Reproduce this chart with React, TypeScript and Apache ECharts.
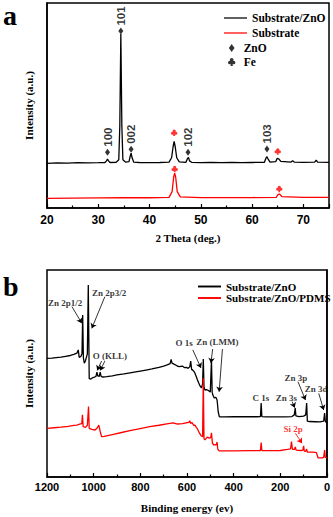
import React, { useEffect, useRef } from "react";
import * as echarts from "echarts";

// ---------- Panel a : XRD ----------
const xrdSubstrateZnO: [number, number][] = [
  [20, 21.8], [22, 22.0], [24, 21.9], [26, 22.1], [28, 22.0], [30, 22.1], [31.3, 22.2], [31.6, 23.0],
  [31.8, 23.9], [32.0, 23.0], [32.3, 22.2], [33.5, 22.3], [34.0, 23.5], [34.2, 40], [34.4, 84.9],
  [34.6, 40], [34.8, 23.5], [35.3, 22.4], [36.0, 22.6], [36.2, 25], [36.4, 26.7], [36.6, 24.5],
  [36.9, 22.4], [38, 22.2], [40, 22.1], [42, 22.2], [43.8, 22.4], [44.3, 24.5], [44.6, 30],
  [44.8, 32.5], [45.0, 30], [45.3, 24.5], [45.8, 22.5], [47.1, 22.3], [47.4, 24.2], [47.6, 24.7],
  [47.8, 23.0], [48.2, 22.3], [50, 22.1], [52, 22.2], [54, 22.1], [56, 22.2], [58, 22.1], [60, 22.2],
  [62.4, 22.3], [62.7, 24.3], [62.9, 25.0], [63.1, 24.0], [63.5, 22.4], [64.6, 22.6], [64.9, 24.2],
  [65.2, 24.0], [65.6, 22.7], [67.6, 22.4], [67.9, 23.0], [68.2, 22.4], [70, 22.3], [72.2, 22.4],
  [72.5, 23.3], [72.8, 22.4], [75, 22.3],
];
const xrdSubstrate: [number, number][] = [
  [20, 4.7], [25, 4.8], [30, 4.9], [35, 5.0], [40, 5.0], [43.8, 5.2], [44.4, 8], [44.7, 15],
  [44.9, 17.0], [45.1, 15], [45.4, 8], [46.0, 5.4], [50, 5.1], [55, 5.1], [60, 5.1], [64.7, 5.2],
  [65.1, 6.6], [65.4, 6.8], [65.8, 5.5], [70, 5.2], [75, 5.2],
];
const xrdZnOPeaks = [
  { hkl: "100", theta: 31.8, y: 27.2 },
  { hkl: "101", theta: 34.4, y: 86.3 },
  { hkl: "002", theta: 36.4, y: 28.6 },
  { hkl: "102", theta: 47.5, y: 27.2 },
  { hkl: "103", theta: 62.9, y: 28.8 },
];
const xrdFeMarks: [number, number][] = [[44.8, 36.7], [65.0, 27.6], [44.9, 19.0], [65.3, 9.3]];

// ---------- Panel b : XPS ----------
const xpsSubstrateZnO: [number, number][] = [
  [1200, 57.3], [1180, 57.4], [1160, 57.7], [1140, 57.9], [1120, 58.3], [1100, 58.7], [1085, 59.2],
  [1072, 59.8], [1066, 61.4], [1062, 57.8], [1055, 58.2], [1050, 59.5], [1047, 78.3], [1044, 57.5],
  [1040, 55.0], [1035, 56.2], [1027, 59.5], [1023, 92.8], [1019, 47.5], [1012, 47.3], [1004, 48.0],
  [996, 48.3], [990, 48.6], [986, 50.6], [982, 48.8], [976, 48.6], [972, 50.6], [968, 48.6],
  [960, 48.3], [944, 48.5], [920, 48.9], [900, 49.3], [870, 49.8], [850, 50.2], [820, 50.8],
  [800, 51.2], [770, 51.8], [750, 52.2], [720, 53.0], [700, 53.6], [685, 54.2], [672, 54.8],
  [668, 56.8], [664, 55.0], [650, 54.2], [640, 53.5], [632, 53.3], [620, 53.6], [610, 52.8],
  [603, 53.0], [595, 52.5], [588, 53.2], [584, 56.0], [580, 52.0], [574, 51.5], [568, 50.7],
  [562, 49.0], [555, 46.9], [550, 45.5], [544, 44.0], [538, 43.0], [533, 45.0], [530, 57.0],
  [527, 43.5], [523, 42.0], [516, 42.2], [508, 41.8], [500, 41.0], [495, 56.5], [492, 41.0],
  [489, 39.6], [483, 38.2], [476, 38.5], [471, 37.2], [469, 35.0], [466, 31.4], [461, 29.0],
  [440, 29.0], [400, 29.2], [350, 29.1], [300, 29.1], [285, 29.2], [282, 35.7], [279, 29.2],
  [260, 29.0], [220, 29.0], [180, 29.0], [150, 29.2], [140, 30.0], [136, 33.3], [133, 29.5],
  [120, 29.2], [100, 29.4], [91, 30.0], [87, 35.7], [84, 27.0], [75, 26.8], [50, 26.7], [30, 26.6],
  [14, 27.0], [10, 30.9], [7, 27.0], [4, 26.5], [0, 26.1],
];
const xpsSubstrateZnOPDMS: [number, number][] = [
  [1200, 23.5], [1170, 23.8], [1140, 24.1], [1110, 24.5], [1085, 24.9], [1072, 25.1], [1060, 25.5],
  [1051, 25.8], [1048, 30.0], [1045, 24.3], [1035, 24.0], [1027, 25.0], [1022, 34.0], [1019, 23.5],
  [1008, 23.0], [994, 22.7], [984, 23.8], [978, 25.1], [972, 22.0], [966, 19.5], [955, 19.6],
  [920, 20.5], [880, 21.5], [840, 22.5], [800, 23.4], [760, 24.3], [720, 25.0], [680, 25.8],
  [660, 26.2], [640, 25.6], [620, 25.8], [603, 26.2], [592, 26.4], [588, 27.2], [584, 25.8],
  [578, 26.3], [572, 25.0], [566, 25.1], [560, 24.0], [555, 23.2], [547, 21.3], [538, 19.8],
  [533, 19.5], [530, 47.8], [527, 18.5], [523, 17.9], [513, 19.3], [504, 18.8], [498, 19.0],
  [495, 21.3], [491, 16.5], [486, 15.5], [478, 15.6], [474, 15.5], [471, 16.9], [468, 13.5],
  [462, 12.6], [400, 12.6], [330, 12.7], [290, 12.7], [285, 12.8], [282, 16.6], [279, 12.8],
  [240, 12.7], [200, 12.8], [170, 13.3], [156, 13.6], [152, 17.1], [148, 13.4], [139, 13.3],
  [136, 14.5], [132, 13.0], [110, 12.8], [103, 13.0], [100, 15.0], [97, 12.5], [91, 12.4],
  [87, 13.5], [84, 12.0], [60, 12.0], [45, 11.8], [38, 9.2], [20, 9.2], [14, 9.5], [10, 13.0],
  [7, 9.5], [0, 9.2],
];
const xpsLabels = [
  { text: "Zn 2p1/2", e: 1122, y: 84.1, red: false },
  { text: "Zn 2p3/2", e: 934, y: 89.1, red: false },
  { text: "O (KLL)", e: 930, y: 58.5, red: false },
  { text: "O 1s", e: 612, y: 64.7, red: false },
  { text: "Zn (LMM)", e: 470, y: 65.2, red: false },
  { text: "C 1s", e: 283, y: 38.2, red: false },
  { text: "Zn 3s", e: 174, y: 38.0, red: false },
  { text: "Zn 3p", e: 133, y: 47.7, red: false },
  { text: "Zn 3d", e: 46, y: 42.4, red: false },
  { text: "Si 2p", e: 145, y: 23.0, red: true },
];
// [fromE, fromY, toE, toY, red]
const xpsArrows: [number, number, number, number, boolean][] = [
  [1093, 82.3, 1051, 74.3, false],
  [952, 87.1, 1008, 71.8, false],
  [966, 56.0, 985, 51.5, false],
  [952, 56.0, 972, 51.5, false],
  [575, 61.4, 540, 52.7, false],
  [490, 61.8, 497, 55.1, false],
  [448, 61.8, 462, 41.2, false],
  [149, 36.4, 138, 33.5, false],
  [124, 46.0, 92, 37.2, false],
  [35, 40.4, 14, 32.4, false],
  [135, 21.1, 107, 16.3, true],
];

const RED = "#ff0000";
const SERIF = "'Liberation Serif', 'Times New Roman', serif";
const SANS = "'Liberation Sans', Arial, sans-serif";
const clubPath =
  "path://M5.5,5 A4.5,4.5 0 0,1 14.5,5 A4.5,4.5 0 0,1 5.5,5 Z M1,11.5 A4.5,4.5 0 0,1 10,11.5 A4.5,4.5 0 0,1 1,11.5 Z M10,11.5 A4.5,4.5 0 0,1 19,11.5 A4.5,4.5 0 0,1 10,11.5 Z M10,8 L13,20 L7,20 Z";
const diamondPath = "path://M5,0L10,7L5,14L0,7Z";

export default function App() {
  const ref = useRef<HTMLDivElement>(null);
  useEffect(() => {
    if (!ref.current) return;
    const chart = echarts.init(ref.current, undefined, { renderer: "svg" });

    const xAxisCommon = {
      type: "value" as const,
      axisLine: { lineStyle: { color: "#000", width: 1.5 } },
      axisTick: { inside: true, length: 4, lineStyle: { color: "#000", width: 1.2 } },
      minorTick: { show: true, splitNumber: 2, length: 2.5, lineStyle: { color: "#000", width: 1.2 } },
      splitLine: { show: false },
      nameLocation: "middle" as const,
      nameTextStyle: { fontFamily: SERIF, fontWeight: "bold" as const, fontSize: 11, color: "#000" },
    };
    const yAxisCommon = {
      type: "value" as const,
      min: 0,
      max: 100,
      axisLine: { show: true, lineStyle: { color: "#000", width: 1.5 } },
      axisTick: { show: false },
      axisLabel: { show: false },
      splitLine: { show: false },
      name: "Intensity (a.u.)",
      nameLocation: "middle" as const,
      nameRotate: 90,
      nameGap: 13,
      nameTextStyle: { fontFamily: SERIF, fontWeight: "bold" as const, fontSize: 11, color: "#000" },
    };

    chart.setOption({
      animation: false,
      backgroundColor: "#fff",
      grid: [
        { left: 47, top: 3, width: 282, height: 205, show: true, borderColor: "#000", borderWidth: 1.5 },
        { left: 47, top: 270, width: 282, height: 207, show: true, borderColor: "#000", borderWidth: 1.5 },
      ],
      xAxis: [
        {
          ...xAxisCommon,
          gridIndex: 0,
          min: 20,
          max: 75,
          interval: 10,
          name: "2 Theta (deg.)",
          nameGap: 24,
          axisLabel: {
            margin: 6,
            showMaxLabel: false,
            formatter: (v: number) => String(v),
            fontFamily: SANS,
            fontWeight: "bold",
            fontSize: 12,
            color: "#000",
          },
        },
        {
          ...xAxisCommon,
          gridIndex: 1,
          min: 0,
          max: 1200,
          interval: 200,
          inverse: true,
          name: "Binding energy (ev)",
          nameGap: 25,
          axisLabel: {
            margin: 4,
            formatter: (v: number) => String(v),
            fontFamily: SANS,
            fontWeight: "bold",
            fontSize: 11,
            color: "#000",
          },
        },
      ],
      yAxis: [
        { ...yAxisCommon, gridIndex: 0 },
        { ...yAxisCommon, gridIndex: 1 },
      ],
      legend: [
        {
          left: 219,
          top: 7,
          orient: "vertical",
          itemWidth: 23,
          itemHeight: 12,
          itemGap: 3,
          icon: "path://M0,0H24V1.3H0Z",
          data: ["Substrate/ZnO", "Substrate"],
          textStyle: { fontFamily: SERIF, fontWeight: "bold", fontSize: 11.5, color: "#000" },
          selectedMode: false,
        },
        {
          left: 223,
          top: 37,
          orient: "vertical",
          itemWidth: 14,
          itemHeight: 8,
          itemGap: 2,
          data: [
            { name: "ZnO", icon: diamondPath, itemStyle: { color: "#000" } },
            { name: "Fe", icon: clubPath, itemStyle: { color: "#000" } },
          ],
          textStyle: { fontFamily: SERIF, fontWeight: "bold", fontSize: 11.5, color: "#000" },
          selectedMode: false,
        },
        {
          left: 193,
          top: 276,
          orient: "vertical",
          itemWidth: 23,
          itemHeight: 11,
          itemGap: 0.5,
          icon: "path://M0,0H24V2H0Z",
          data: ["Substrate/ZnO", "Substrate/ZnO/PDMS"],
          textStyle: { fontFamily: SERIF, fontWeight: "bold", fontSize: 11, color: "#000" },
          selectedMode: false,
        },
      ],
      graphic: [
        {
          type: "text",
          left: 3,
          top: 1,
          style: { text: "a", font: `bold 28px ${SERIF}`, fill: "#000" },
        },
        {
          type: "text",
          left: 3,
          top: 272,
          style: { text: "b", font: `bold 28px ${SERIF}`, fill: "#000" },
        },
      ],
      series: [
        {
          type: "line",
          name: "Substrate/ZnO",
          xAxisIndex: 0,
          yAxisIndex: 0,
          data: xrdSubstrateZnO,
          showSymbol: false,
          color: "#000",
          lineStyle: { color: "#000", width: 1.3 },
        },
        {
          type: "line",
          name: "Substrate",
          xAxisIndex: 0,
          yAxisIndex: 0,
          data: xrdSubstrate,
          showSymbol: false,
          color: RED,
          lineStyle: { color: RED, width: 1.3 },
        },
        {
          type: "scatter",
          name: "ZnO",
          xAxisIndex: 0,
          yAxisIndex: 0,
          symbol: "diamond",
          symbolSize: [5, 7],
          itemStyle: { color: "#000" },
          data: xrdZnOPeaks.map((p) => ({ value: [p.theta, p.y], name: p.hkl })),
          label: {
            show: true,
            formatter: "{b}",
            position: "top",
            distance: 2,
            rotate: 90,
            align: "left",
            verticalAlign: "middle",
            fontFamily: SANS,
            fontWeight: "bold",
            fontSize: 11.5,
            color: "#000",
          },
        },
        {
          type: "scatter",
          name: "Fe",
          xAxisIndex: 0,
          yAxisIndex: 0,
          symbol: clubPath,
          symbolSize: 6.5,
          itemStyle: { color: RED },
          data: xrdFeMarks,
        },
        {
          type: "line",
          name: "Substrate/ZnO",
          xAxisIndex: 1,
          yAxisIndex: 1,
          data: xpsSubstrateZnO,
          showSymbol: false,
          color: "#000",
          lineStyle: { color: "#000", width: 1.3 },
        },
        {
          type: "line",
          name: "Substrate/ZnO/PDMS",
          xAxisIndex: 1,
          yAxisIndex: 1,
          data: xpsSubstrateZnOPDMS,
          showSymbol: false,
          color: RED,
          lineStyle: { color: RED, width: 1.3 },
        },
        {
          type: "scatter",
          name: "xps-labels",
          xAxisIndex: 1,
          yAxisIndex: 1,
          symbolSize: 1,
          itemStyle: { color: "rgba(0,0,0,0)" },
          silent: true,
          data: xpsLabels.map((l) => ({
            value: [l.e, l.y],
            name: l.text,
            label: { color: l.red ? RED : "#000" },
          })),
          label: {
            show: true,
            formatter: "{b}",
            position: "inside",
            fontFamily: SERIF,
            fontWeight: "bold",
            fontSize: 9,
            color: "#000",
          },
          markLine: {
            silent: true,
            symbol: ["none", "arrow"],
            symbolSize: 5,
            label: { show: false },
            lineStyle: { color: "#000", width: 0.8, type: "solid" },
            data: xpsArrows.map((a) => [
              { coord: [a[0], a[1]], lineStyle: { color: a[4] ? RED : "#000", width: 0.8, type: "solid" } },
              { coord: [a[2], a[3]] },
            ]),
          },
        },
      ],
    });
    return () => chart.dispose();
  }, []);

  return (
    <div
      ref={ref}
      style={{ position: "absolute", left: 0, top: 0, width: 333, height: 517, background: "#fff" }}
    />
  );
}
